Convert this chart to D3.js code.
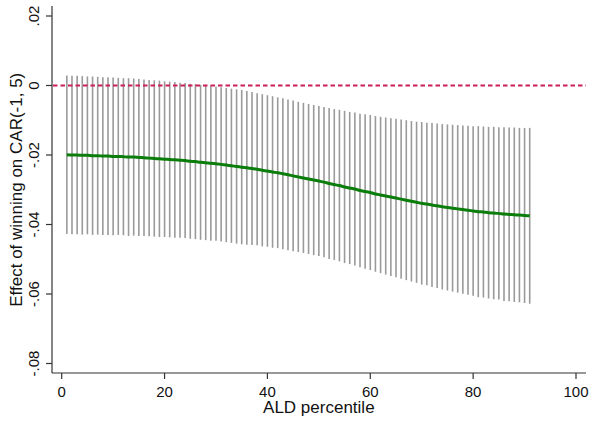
<!DOCTYPE html>
<html>
<head>
<meta charset="utf-8">
<script src="https://cdn.jsdelivr.net/npm/d3@7.9.0/dist/d3.min.js"></script>
<style>
  body { margin: 0; background: #fff; }
  svg { display: block; font-family: "Liberation Sans", Arial, sans-serif; }
</style>
</head>
<body>
<svg id="chart" width="590" height="422"></svg>
<script>
// ALD percentiles 1..91
const percentiles = d3.range(1, 92);

// point estimate
const estimate = [
  -0.0199, -0.0200, -0.0200, -0.0201, -0.0201, -0.0202, -0.0202, -0.0203, -0.0203, -0.0204,
  -0.0204, -0.0205, -0.0206, -0.0206, -0.0207, -0.0208, -0.0209, -0.0210, -0.0211, -0.0212,
  -0.0213, -0.0214, -0.0215, -0.0216, -0.0218, -0.0219, -0.0221, -0.0222, -0.0224, -0.0225,
  -0.0227, -0.0229, -0.0231, -0.0233, -0.0235, -0.0237, -0.0239, -0.0241, -0.0244, -0.0246,
  -0.0249, -0.0251, -0.0254, -0.0257, -0.0260, -0.0263, -0.0266, -0.0269, -0.0272, -0.0275,
  -0.0278, -0.0282, -0.0285, -0.0288, -0.0292, -0.0295, -0.0298, -0.0302, -0.0305, -0.0308,
  -0.0312, -0.0315, -0.0318, -0.0321, -0.0324, -0.0327, -0.0330, -0.0333, -0.0336, -0.0339,
  -0.0341, -0.0344, -0.0346, -0.0349, -0.0351, -0.0353, -0.0355, -0.0357, -0.0359, -0.0361,
  -0.0363, -0.0364, -0.0366, -0.0367, -0.0368, -0.0370, -0.0371, -0.0372, -0.0373, -0.0374,
  -0.0375
];

// upper bound of the interval
const upper = [
  0.0029, 0.0028, 0.0028, 0.0027, 0.0026, 0.0026, 0.0025, 0.0024, 0.0024, 0.0023,
  0.0022, 0.0021, 0.0021, 0.0020, 0.0019, 0.0017, 0.0016, 0.0015, 0.0014, 0.0012,
  0.0011, 0.0010, 0.0008, 0.0007, 0.0005, 0.0004, 0.0002, 0.0001, -0.0001, -0.0003,
  -0.0005, -0.0007, -0.0009, -0.0011, -0.0013, -0.0016, -0.0019, -0.0022, -0.0025, -0.0028,
  -0.0031, -0.0034, -0.0037, -0.0040, -0.0043, -0.0047, -0.0050, -0.0053, -0.0056, -0.0059,
  -0.0062, -0.0065, -0.0068, -0.0070, -0.0073, -0.0076, -0.0078, -0.0081, -0.0083, -0.0085,
  -0.0088, -0.0090, -0.0092, -0.0094, -0.0096, -0.0098, -0.0100, -0.0102, -0.0104, -0.0105,
  -0.0107, -0.0108, -0.0109, -0.0111, -0.0112, -0.0113, -0.0114, -0.0115, -0.0116, -0.0117,
  -0.0117, -0.0118, -0.0119, -0.0119, -0.0120, -0.0120, -0.0121, -0.0121, -0.0122, -0.0122,
  -0.0122
];

// lower bound of the interval
const lower = [
  -0.0427, -0.0428, -0.0428, -0.0429, -0.0428, -0.0430, -0.0429, -0.0430, -0.0430, -0.0431,
  -0.0430, -0.0431, -0.0433, -0.0432, -0.0433, -0.0433, -0.0434, -0.0435, -0.0436, -0.0436,
  -0.0437, -0.0438, -0.0438, -0.0439, -0.0441, -0.0442, -0.0444, -0.0445, -0.0447, -0.0447,
  -0.0449, -0.0451, -0.0453, -0.0455, -0.0457, -0.0458, -0.0459, -0.0460, -0.0463, -0.0464,
  -0.0467, -0.0468, -0.0471, -0.0474, -0.0477, -0.0479, -0.0482, -0.0485, -0.0488, -0.0491,
  -0.0494, -0.0499, -0.0502, -0.0506, -0.0511, -0.0514, -0.0518, -0.0523, -0.0527, -0.0531,
  -0.0536, -0.0540, -0.0544, -0.0548, -0.0552, -0.0556, -0.0560, -0.0564, -0.0568, -0.0573,
  -0.0575, -0.0580, -0.0583, -0.0587, -0.0590, -0.0593, -0.0596, -0.0599, -0.0602, -0.0605,
  -0.0609, -0.0610, -0.0613, -0.0615, -0.0616, -0.0620, -0.0621, -0.0623, -0.0624, -0.0626,
  -0.0628
];

const xTicks = [0, 20, 40, 60, 80, 100];
const yTicks = [-0.08, -0.06, -0.04, -0.02, 0, 0.02];
const yTickLabels = ["-.08", "-.06", "-.04", "-.02", "0", ".02"];

const rows = percentiles.map((p, i) => ({ p, est: estimate[i], lo: lower[i], hi: upper[i] }));

const svg = d3.select("#chart");

// scales (plot area as in the Stata graph)
const x = d3.scaleLinear().domain([0, 100]).range([61.7, 576]);
const y = d3.scaleLinear().domain([-0.08, 0.02]).range([363.5, 16]);

const axisLeft = 52;
const axisBottom = 373;

// confidence interval spikes
svg.append("g")
  .selectAll("line")
  .data(rows)
  .join("line")
  .attr("x1", d => x(d.p))
  .attr("x2", d => x(d.p))
  .attr("y1", d => y(d.hi))
  .attr("y2", d => y(d.lo))
  .attr("stroke", "#9a9a9a")
  .attr("stroke-width", 1.6);

// reference line at zero
svg.append("line")
  .attr("x1", axisLeft + 1)
  .attr("x2", 586)
  .attr("y1", y(0))
  .attr("y2", y(0))
  .attr("stroke", "#cc1f55")
  .attr("stroke-width", 2.2)
  .attr("stroke-dasharray", "4.5,3");

// estimate line
const line = d3.line()
  .x(d => x(d.p))
  .y(d => y(d.est))
  .curve(d3.curveMonotoneX);

svg.append("path")
  .datum(rows)
  .attr("d", line)
  .attr("fill", "none")
  .attr("stroke", "#0a7d0a")
  .attr("stroke-width", 3);

// y axis
const gy = svg.append("g").attr("transform", `translate(${axisLeft},0)`);
gy.append("line")
  .attr("x1", 0).attr("x2", 0)
  .attr("y1", 6).attr("y2", axisBottom)
  .attr("stroke", "#333").attr("stroke-width", 1.2);
gy.selectAll(".tick")
  .data(yTicks)
  .join("line")
  .attr("x1", -6).attr("x2", 0)
  .attr("y1", d => y(d)).attr("y2", d => y(d))
  .attr("stroke", "#333").attr("stroke-width", 1.2);
gy.selectAll("text")
  .data(yTicks)
  .join("text")
  .attr("transform", d => `translate(-13.5,${y(d)}) rotate(-90)`)
  .attr("text-anchor", "middle")
  .attr("font-size", 15)
  .attr("fill", "#111")
  .text((d, i) => yTickLabels[i]);

// x axis
const gx = svg.append("g").attr("transform", `translate(0,${axisBottom})`);
gx.append("line")
  .attr("x1", axisLeft).attr("x2", 586)
  .attr("y1", 0).attr("y2", 0)
  .attr("stroke", "#333").attr("stroke-width", 1.2);
gx.selectAll(".tick")
  .data(xTicks)
  .join("line")
  .attr("x1", d => x(d)).attr("x2", d => x(d))
  .attr("y1", 0).attr("y2", 6)
  .attr("stroke", "#333").attr("stroke-width", 1.2);
gx.selectAll("text")
  .data(xTicks)
  .join("text")
  .attr("x", d => x(d))
  .attr("y", 24)
  .attr("text-anchor", "middle")
  .attr("font-size", 15)
  .attr("fill", "#111")
  .text(d => d);

// axis titles
svg.append("text")
  .attr("x", (x(0) + x(100)) / 2)
  .attr("y", 413)
  .attr("text-anchor", "middle")
  .attr("font-size", 17)
  .attr("fill", "#111")
  .text("ALD percentile");

svg.append("text")
  .attr("transform", `translate(22,${(y(-0.08) + y(0.02)) / 2}) rotate(-90)`)
  .attr("text-anchor", "middle")
  .attr("font-size", 17)
  .attr("fill", "#111")
  .text("Effect of winning on CAR(-1, 5)");
</script>
</body>
</html>
